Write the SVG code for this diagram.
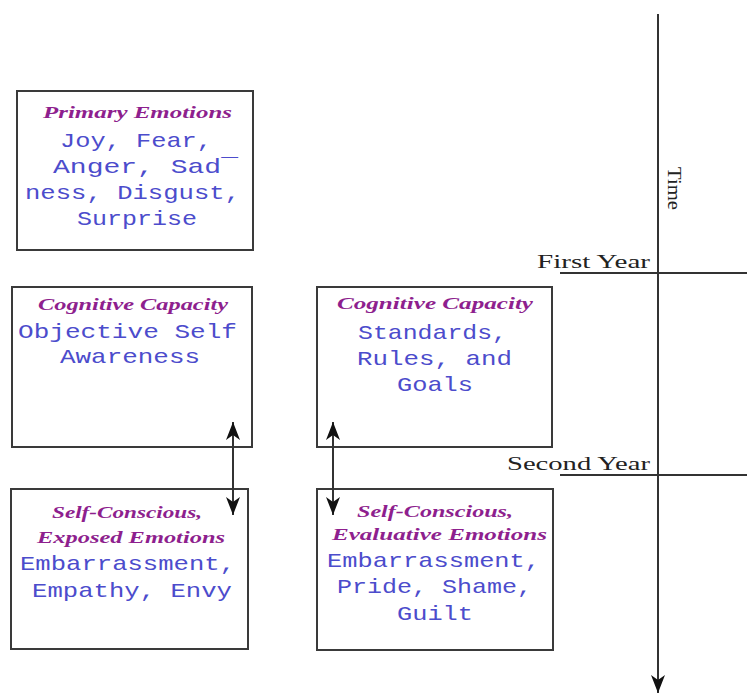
<svg xmlns="http://www.w3.org/2000/svg" width="747" height="695" viewBox="0 0 747 695">
<style>
.box{fill:#fff;stroke:#3a3a3a;stroke-width:2}
.ttl{font-family:"Liberation Serif",serif;font-style:italic;font-weight:bold;font-size:16px;fill:#8e1f8e}
.mono{font-family:"Liberation Mono",monospace;font-size:21px;fill:#4c4ccc}
.yr{font-family:"Liberation Serif",serif;font-size:19px;fill:#222}
.ln{stroke:#333;stroke-width:2;fill:none}
</style>
<defs>
<marker id="ah" markerUnits="userSpaceOnUse" markerWidth="18" markerHeight="14" refX="18" refY="7" orient="auto-start-reverse" viewBox="0 0 18 14">
<path d="M0,0 L18,7 L0,14 L5,7 z" fill="#111"/>
</marker>
</defs>
<rect width="747" height="695" fill="#fff"/>

<g id="primary-emotions">
<rect class="box" x="17" y="91" width="236" height="159"/>
<text class="ttl" x="43" y="118" textLength="189" lengthAdjust="spacingAndGlyphs">Primary Emotions</text>
<text class="mono" x="60" y="147" textLength="152" lengthAdjust="spacingAndGlyphs">Joy, Fear,</text>
<text class="mono" x="53" y="173" textLength="185" lengthAdjust="spacingAndGlyphs">Anger, Sad¯</text>
<text class="mono" x="25" y="199" textLength="215" lengthAdjust="spacingAndGlyphs">ness, Disgust,</text>
<text class="mono" x="77" y="225" textLength="120" lengthAdjust="spacingAndGlyphs">Surprise</text>
</g>

<g id="cognitive-self-awareness">
<rect class="box" x="12" y="287" width="240" height="160"/>
<text class="ttl" x="38" y="310" textLength="190" lengthAdjust="spacingAndGlyphs">Cognitive Capacity</text>
<text class="mono" x="18" y="338" textLength="219" lengthAdjust="spacingAndGlyphs">Objective Self</text>
<text class="mono" x="60" y="363" textLength="140" lengthAdjust="spacingAndGlyphs">Awareness</text>
</g>

<g id="cognitive-standards">
<rect class="box" x="317" y="287" width="235" height="160"/>
<text class="ttl" x="337" y="309" textLength="196" lengthAdjust="spacingAndGlyphs">Cognitive Capacity</text>
<text class="mono" x="358" y="339" textLength="149" lengthAdjust="spacingAndGlyphs">Standards,</text>
<text class="mono" x="357" y="365" textLength="155" lengthAdjust="spacingAndGlyphs">Rules, and</text>
<text class="mono" x="397" y="391" textLength="76" lengthAdjust="spacingAndGlyphs">Goals</text>
</g>

<g id="exposed-emotions">
<rect class="box" x="11" y="489" width="237" height="160"/>
<text class="ttl" x="52" y="518" textLength="150" lengthAdjust="spacingAndGlyphs">Self-Conscious,</text>
<text class="ttl" x="37" y="543" textLength="188" lengthAdjust="spacingAndGlyphs">Exposed Emotions</text>
<text class="mono" x="20" y="570" textLength="215" lengthAdjust="spacingAndGlyphs">Embarrassment,</text>
<text class="mono" x="32" y="597" textLength="200" lengthAdjust="spacingAndGlyphs">Empathy, Envy</text>
</g>

<g id="evaluative-emotions">
<rect class="box" x="317" y="489" width="236" height="161"/>
<text class="ttl" x="357" y="517" textLength="156" lengthAdjust="spacingAndGlyphs">Self-Conscious,</text>
<text class="ttl" x="332" y="540" textLength="215" lengthAdjust="spacingAndGlyphs">Evaluative Emotions</text>
<text class="mono" x="327" y="567" textLength="213" lengthAdjust="spacingAndGlyphs">Embarrassment,</text>
<text class="mono" x="337" y="593" textLength="195" lengthAdjust="spacingAndGlyphs">Pride, Shame,</text>
<text class="mono" x="397" y="620" textLength="76" lengthAdjust="spacingAndGlyphs">Guilt</text>
</g>

<g id="first-year">
<line class="ln" x1="560" y1="273" x2="747" y2="273"/>
<text class="yr" x="537" y="268" textLength="113" lengthAdjust="spacingAndGlyphs">First Year</text>
</g>

<g id="second-year">
<line class="ln" x1="560" y1="475" x2="747" y2="475"/>
<text class="yr" x="507" y="470" textLength="143" lengthAdjust="spacingAndGlyphs">Second Year</text>
</g>

<g id="time-axis">
<line class="ln" x1="658" y1="14" x2="658" y2="693" marker-end="url(#ah)"/>
<text class="yr" transform="translate(668,167) rotate(90)" x="0" y="0" textLength="43" lengthAdjust="spacingAndGlyphs">Time</text>
</g>

<g id="connectors">
<line class="ln" x1="233" y1="422" x2="233" y2="515" marker-start="url(#ah)" marker-end="url(#ah)"/>
<line class="ln" x1="333" y1="422" x2="333" y2="515" marker-start="url(#ah)" marker-end="url(#ah)"/>
</g>
</svg>
